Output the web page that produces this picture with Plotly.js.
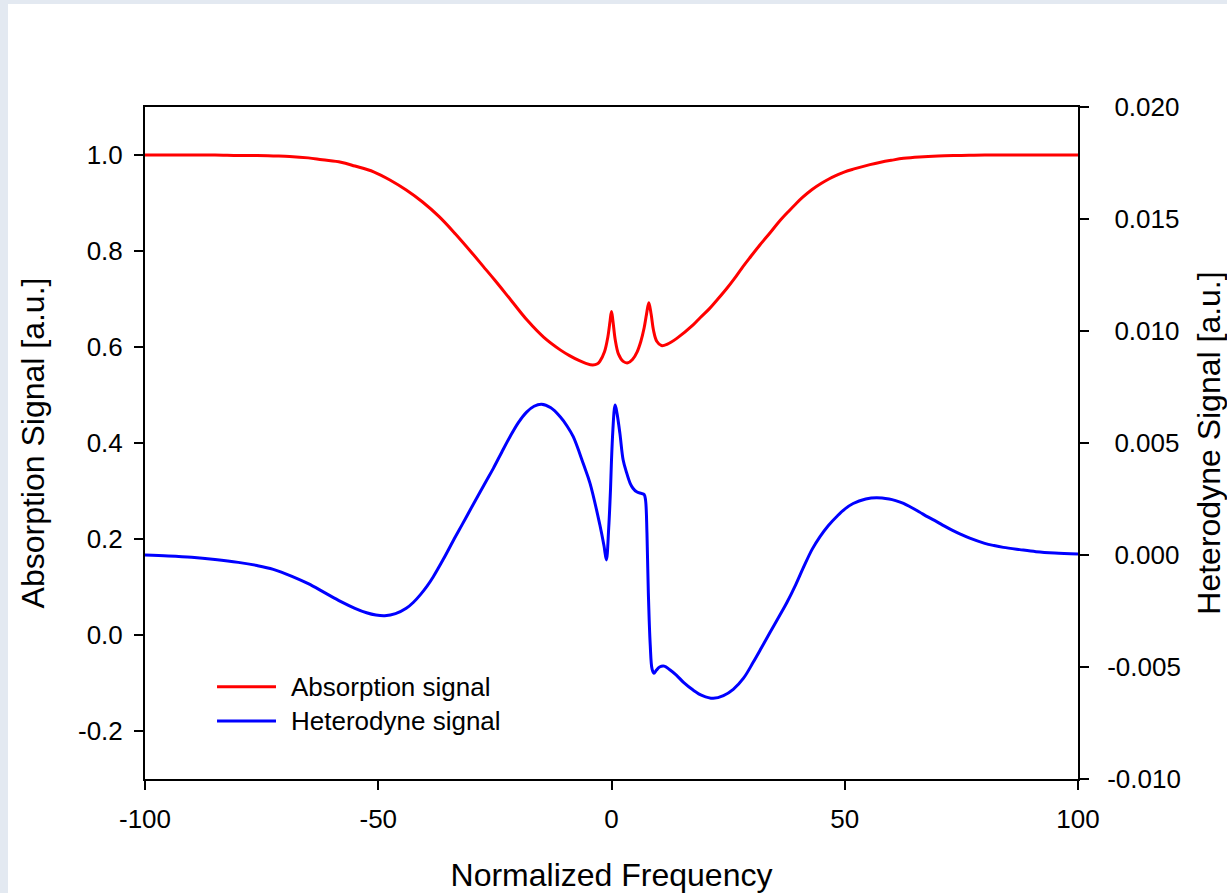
<!DOCTYPE html>
<html>
<head>
<meta charset="utf-8">
<script src="https://cdn.plot.ly/plotly-3.0.1.min.js"></script>
<style>
html, body { margin: 0; padding: 0; background: #e3e9f1; width: 1227px; height: 893px; overflow: hidden; }
#chart { position: absolute; left: 8px; top: 4px; width: 1219px; height: 889px; background: #ffffff; }
</style>
</head>
<body>
<div id="chart"></div>
<script>
// Absorption signal (left axis)
const freqAbs = [-100, -95, -90, -85, -80, -76, -72.5, -69, -65, -62, -58, -55, -51, -47.5, -44, -40.5, -37, -33.5, -30, -27.5, -25, -21.5, -18, -14.5, -11, -9, -7, -5.5, -4, -3, -2.5, -1.5, -0.8, -0.3, 0, 0.3, 0.8, 1.5, 2.5, 3.5, 4.5, 5.5, 6.3, 7, 7.5, 8, 8.5, 9, 9.7, 10.7, 12, 14, 17.5, 19, 21, 22.8, 24.7, 26.3, 28, 29.9, 31.8, 34, 36, 38, 39.5, 41, 43, 45, 46.6, 48.3, 50, 52, 55.4, 57.7, 60, 62.6, 66, 70, 75, 80, 85, 90, 95, 100];
const absorption = [1.000, 1.000, 1.000, 1.000, 0.999, 0.999, 0.998, 0.997, 0.994, 0.990, 0.985, 0.977, 0.965, 0.948, 0.927, 0.902, 0.872, 0.836, 0.797, 0.768, 0.739, 0.697, 0.655, 0.620, 0.594, 0.582, 0.572, 0.566, 0.5625, 0.565, 0.570, 0.590, 0.620, 0.655, 0.674, 0.655, 0.615, 0.585, 0.570, 0.567, 0.574, 0.590, 0.612, 0.640, 0.668, 0.692, 0.668, 0.635, 0.612, 0.603, 0.606, 0.618, 0.646, 0.661, 0.680, 0.700, 0.722, 0.742, 0.765, 0.789, 0.8125, 0.838, 0.862, 0.883, 0.898, 0.912, 0.928, 0.941, 0.950, 0.958, 0.965, 0.971, 0.980, 0.985, 0.989, 0.993, 0.996, 0.998, 0.999, 1.000, 1.000, 1.000, 1.000, 1.000];

// Heterodyne signal (right axis)
const freqHet = [-100, -95, -90, -85, -80, -76, -72.5, -68.5, -65, -61.5, -58, -55, -52.5, -50.5, -48.6, -46.3, -44, -42.5, -41, -39.5, -38.2, -36, -33.9, -31.9, -30.3, -27, -25.3, -23.5, -21.7, -20, -18.2, -16.6, -15, -13, -11, -9.5, -8.2, -6, -4.6, -2.5, -1.6, -1.1, -0.6, -0.2, 0, 0.3, 0.6, 0.8, 1.2, 1.8, 2.5, 3.2, 4, 4.6, 5.4, 6.4, 7, 7.3, 7.6, 7.9, 8.3, 8.7, 9.1, 9.6, 10.3, 11.3, 12.5, 13.9, 15.5, 17.5, 19.5, 21.8, 24, 26.1, 28.3, 30.4, 32.2, 34, 36.1, 37.6, 39.5, 41.1, 43, 44.7, 46.5, 48.3, 50, 51.8, 54.5, 56.8, 59.5, 60.9, 62.6, 64.3, 66, 67.8, 69.7, 71.3, 73, 74.9, 76.8, 80, 82, 84, 87.5, 91, 95, 100];
const heterodyne = [0.00000, -0.00004, -0.00010, -0.00020, -0.00033, -0.00047, -0.00064, -0.00095, -0.00128, -0.00168, -0.00208, -0.00238, -0.00258, -0.00268, -0.00271, -0.00262, -0.00238, -0.00212, -0.00178, -0.00138, -0.00097, -0.00017, 0.00065, 0.00140, 0.00201, 0.00325, 0.00388, 0.00460, 0.00530, 0.00590, 0.00638, 0.00664, 0.00673, 0.00657, 0.00617, 0.00575, 0.00528, 0.00405, 0.00320, 0.00135, 0.00040, -0.00022, 0.00120, 0.00300, 0.00424, 0.00560, 0.00650, 0.00670, 0.00630, 0.00543, 0.00424, 0.00370, 0.00320, 0.00298, 0.00282, 0.00275, 0.00270, 0.00245, 0.00100, -0.00170, -0.00400, -0.00510, -0.00528, -0.00515, -0.00500, -0.00496, -0.00512, -0.00536, -0.00570, -0.00603, -0.00628, -0.00640, -0.00628, -0.00600, -0.00550, -0.00478, -0.00412, -0.00345, -0.00268, -0.00212, -0.00132, -0.00058, 0.00025, 0.00082, 0.00132, 0.00172, 0.00205, 0.00230, 0.00250, 0.00256, 0.00250, 0.00243, 0.00231, 0.00212, 0.00192, 0.00170, 0.00149, 0.00130, 0.00111, 0.00092, 0.00075, 0.00052, 0.00042, 0.00034, 0.00024, 0.00015, 0.00009, 0.00005];

// Tick labels
const xTickVals = [-100, -50, 0, 50, 100];
const xTickText = ['-100', '-50', '0', '50', '100'];
const yTickVals = [-0.2, 0, 0.2, 0.4, 0.6, 0.8, 1.0];
const yTickText = ['-0.2', '0.0', '0.2', '0.4', '0.6', '0.8', '1.0'];
const y2TickVals = [-0.010, -0.005, 0, 0.005, 0.010, 0.015, 0.020];
const y2TickText = ['-0.010', '-0.005', '\u00a00.000', '\u00a00.005', '\u00a00.010', '\u00a00.015', '\u00a00.020'];

const seriesNames = ['Absorption signal', 'Heterodyne signal'];
const seriesColors = ['#ff0000', '#0000ff'];

const FONT = 'Liberation Sans, Arial, sans-serif';

const traces = [
  { x: freqAbs, y: absorption, type: 'scatter', mode: 'lines', name: seriesNames[0],
    line: { color: seriesColors[0], width: 3, shape: 'spline', smoothing: 1.0, simplify: false }, yaxis: 'y' },
  { x: freqHet, y: heterodyne, type: 'scatter', mode: 'lines', name: seriesNames[1],
    line: { color: seriesColors[1], width: 3, shape: 'spline', smoothing: 1.0, simplify: false }, yaxis: 'y2' }
];

const axisCommon = {
  ticks: 'outside', ticklen: 9, tickwidth: 2, tickcolor: '#000',
  showline: true, linewidth: 2, linecolor: '#000',
  showgrid: false, zeroline: false, automargin: false,
  tickfont: { family: FONT, size: 26, color: '#000' }
};

const legendLineY = [0.1374, 0.0863];
const layout = {
  width: 1219, height: 889,
  margin: { l: 137, r: 149, t: 103, b: 114 },
  paper_bgcolor: '#ffffff', plot_bgcolor: '#ffffff',
  showlegend: false,
  font: { family: FONT, color: '#000' },
  xaxis: Object.assign({}, axisCommon, {
    range: [-100, 100], tickmode: 'array', tickvals: xTickVals, ticktext: xTickText,
    mirror: true, ticklabelstandoff: 7,
    title: { text: 'Normalized Frequency', font: { family: FONT, size: 32, color: '#000' }, standoff: 30 }
  }),
  yaxis: Object.assign({}, axisCommon, {
    range: [-0.3, 1.1], tickmode: 'array', tickvals: yTickVals, ticktext: yTickText,
    mirror: true, ticklabelstandoff: 6,
    title: { text: 'Absorption Signal [a.u.]', font: { family: FONT, size: 32, color: '#000' }, standoff: 24 }
  }),
  yaxis2: Object.assign({}, axisCommon, {
    range: [-0.010, 0.020], tickmode: 'array', tickvals: y2TickVals, ticktext: y2TickText,
    overlaying: 'y', side: 'right', ticklabelstandoff: 13,
    title: { text: 'Heterodyne Signal [a.u.]', font: { family: FONT, size: 32, color: '#000' }, standoff: 42 }
  }),
  shapes: seriesNames.map((n, i) => ({
    type: 'line', xref: 'paper', yref: 'paper',
    x0: 0.0772, x1: 0.1404, y0: legendLineY[i], y1: legendLineY[i],
    line: { color: seriesColors[i], width: 3 }
  })),
  annotations: seriesNames.map((n, i) => ({
    text: n, xref: 'paper', yref: 'paper', x: 0.1543, y: legendLineY[i],
    xanchor: 'left', yanchor: 'middle', showarrow: false,
    font: { family: FONT, size: 26, color: '#000' }
  }))
};

Plotly.newPlot('chart', traces, layout, { displayModeBar: false, staticPlot: true });
</script>
</body>
</html>
